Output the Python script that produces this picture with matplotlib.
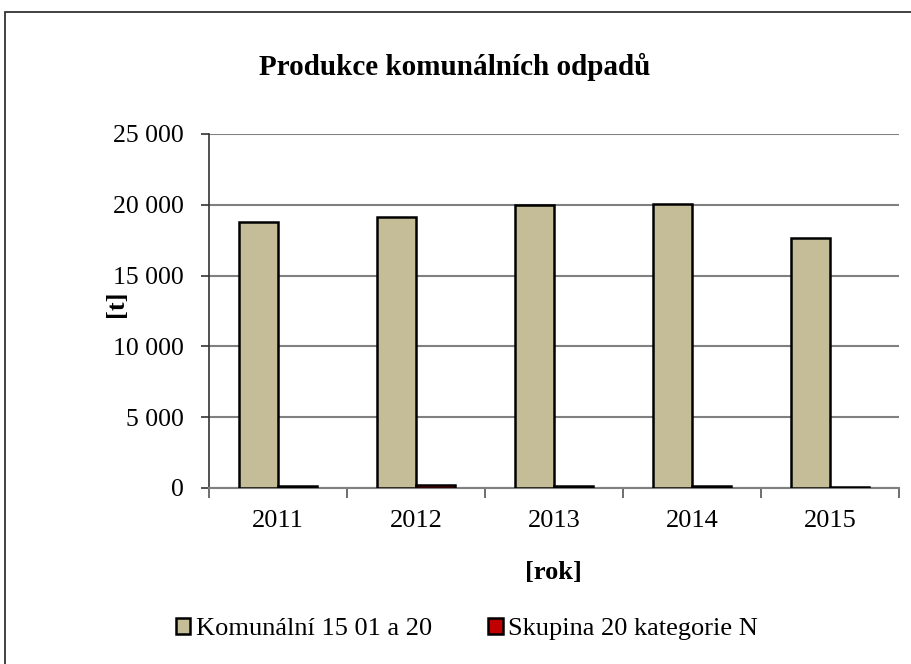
import matplotlib
matplotlib.use("Agg")
import matplotlib.pyplot as plt
from matplotlib.patches import Rectangle
import numpy as np

years = ["2011", "2012", "2013", "2014", "2015"]
komunalni = [18790, 19150, 19960, 20080, 17680]
skupina_n = [170, 190, 130, 160, 100]
series_names = ["Komunální 15 01 a 20", "Skupina 20 kategorie N"]
yticks = [0, 5000, 10000, 15000, 20000, 25000]
ytick_labels = ["0", "5 000", "10 000", "15 000", "20 000", "25 000"]

W, H = 911, 664
fig = plt.figure(figsize=(W / 100, H / 100), dpi=100)
plt.rcParams['font.family'] = ['Liberation Serif', 'DejaVu Serif']

# outer chart frame (clipped at right/bottom like the reference)
fig.add_artist(Rectangle((5 / W, -0.2), 2.0, (H - 12) / H + 0.2,
                         transform=fig.transFigure, fill=False,
                         edgecolor='#333333', lw=1.3))

ax = fig.add_axes([209 / W, (H - 488) / H, 690 / W, (488 - 134) / H])
x = np.arange(len(years))
bw = 39 / 138
ax.bar(x - bw / 2, komunalni, width=bw, color='#C4BD97', edgecolor='black',
       linewidth=1.8, label=series_names[0], zorder=3)
ax.bar(x + bw / 2, skupina_n, width=bw, color='#C00000', edgecolor='black',
       linewidth=1.8, label=series_names[1], zorder=3)

ax.set_xlim(-0.5, len(years) - 0.5)
ax.set_ylim(0, 25000)
ax.set_yticks(yticks)
ax.set_yticklabels(ytick_labels, fontsize=18.5)
ax.yaxis.grid(True, color='#808080', lw=1.5, zorder=0)
ax.set_axisbelow(True)

ax.set_xticks(x)
ax.set_xticklabels(years, fontsize=19)
ax.set_xticks(np.arange(len(years) + 1) - 0.5, minor=True)
ax.tick_params(axis='x', which='major', length=0, pad=16)
ax.tick_params(axis='x', which='minor', length=7, width=1.2, color='#555555')
ax.tick_params(axis='y', length=6, width=1.2, color='#333333', pad=12)

for s in ['top', 'right']:
    ax.spines[s].set_visible(False)
ax.spines['left'].set_color('#333333')
ax.spines['left'].set_linewidth(1.2)
ax.spines['bottom'].set_color('#808080')
ax.spines['bottom'].set_linewidth(1.5)

fig.text(455 / W, 1 - 67 / H, "Produkce komunálních odpadů", ha='center',
         va='center', fontsize=21, fontweight='bold')
fig.text(116 / W, 1 - 304 / H, "[t]", ha='center', va='center', rotation=90,
         fontsize=19, fontweight='bold')
fig.text(553 / W, 1 - 573 / H, "[rok]", ha='center', va='center',
         fontsize=19, fontweight='bold')

handles, labels = ax.get_legend_handles_labels()
leg = fig.legend(handles, labels, loc='center', bbox_to_anchor=(467 / W, 1 - 629 / H),
                 ncol=2, frameon=False, fontsize=19, handlelength=0.55,
                 handleheight=0.55, handletextpad=0.2, columnspacing=2.15)

fig.savefig("out.png", dpi=100)
